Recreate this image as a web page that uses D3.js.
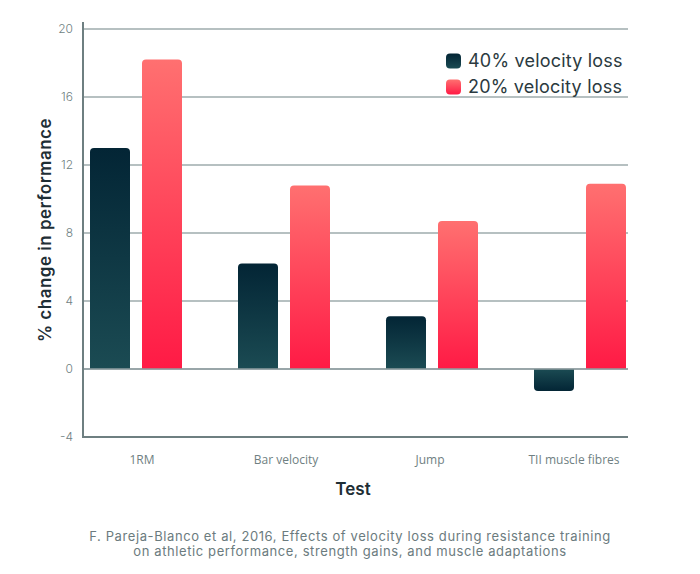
<!DOCTYPE html>
<html><head><meta charset="utf-8">
<script src="https://cdn.jsdelivr.net/npm/d3@7"></script>
<style>body{margin:0;background:#fff}svg{display:block}</style>
</head><body>
<svg id="c" width="700" height="574"></svg>
<script>
const categories = ["1RM", "Bar velocity", "Jump", "TII muscle fibres"];
const seriesNames = ["40% velocity loss", "20% velocity loss"];
const loss40 = [13.0, 6.2, 3.1, -1.3];
const loss20 = [18.2, 10.8, 8.7, 10.9];
const yTicks = [-4, 0, 4, 8, 12, 16, 20];

const svg = d3.select("#c");
const font = "Inter, 'Noto Sans', sans-serif";
const defs = svg.append("defs");
function grad(id, top, bottom) {
  const g = defs.append("linearGradient").attr("id", id).attr("x1", 0).attr("y1", 0).attr("x2", 0).attr("y2", 1);
  g.append("stop").attr("offset", "0%").attr("stop-color", top);
  g.append("stop").attr("offset", "100%").attr("stop-color", bottom);
}
grad("darkPos", "#032535", "#1b4b53");
grad("darkNeg", "#1b4b53", "#032535");
grad("redPos", "#ff7070", "#ff1a45");
grad("redNeg", "#ff1a45", "#ff7070");

const plotL = 83, plotR = 628;
const y = d3.scaleLinear().domain([-4, 20]).range([437, 29]);
const x0 = d3.scaleBand().domain(categories).range([62, 654]);
const x1 = d3.scaleBand().domain(seriesNames).range([-46, 46]).paddingInner(1 - 40 / 52);
const xLabel = d3.scalePoint().domain(categories).range([142, 574]);

// gridlines
svg.append("g").selectAll("line").data(yTicks.filter(t => t > -4)).join("line")
  .attr("x1", plotL).attr("x2", plotR)
  .attr("y1", d => y(d)).attr("y2", d => y(d))
  .attr("stroke", "#9eabad").attr("stroke-width", 1.3);

// y tick labels
svg.append("g").selectAll("text").data(yTicks).join("text")
  .attr("x", 73).attr("y", d => y(d)).attr("dy", "0.35em")
  .attr("text-anchor", "end").attr("font-family", font).attr("font-size", 12)
  .attr("font-weight", 300).attr("fill", "#6f7f82").text(d => d);

// bars
const data = [];
categories.forEach((c, i) => {
  data.push({c, s: seriesNames[0], v: loss40[i], k: "dark"});
  data.push({c, s: seriesNames[1], v: loss20[i], k: "red"});
});
function barPath(xl, w, y0, y1, r) {
  const dir = y1 < y0 ? 1 : -1;
  r = Math.min(r, Math.abs(y1 - y0) / 2);
  const xr = xl + w;
  return `M${xl},${y0} L${xl},${y1 + dir * r} Q${xl},${y1} ${xl + r},${y1} L${xr - r},${y1} Q${xr},${y1} ${xr},${y1 + dir * r} L${xr},${y0} Z`;
}
svg.append("g").selectAll("path").data(data).join("path")
  .attr("d", d => barPath(x0(d.c) + x0.bandwidth() / 2 + x1(d.s), x1.bandwidth(), y(0), y(d.v), 4))
  .attr("fill", d => `url(#${d.k}${d.v >= 0 ? "Pos" : "Neg"})`);

// zero line
svg.append("line").attr("x1", plotL).attr("x2", plotR).attr("y1", y(0)).attr("y2", y(0))
  .attr("stroke", "#8f9ea0").attr("stroke-width", 1.3);

// axes lines
svg.append("line").attr("x1", plotL).attr("x2", plotL).attr("y1", 22).attr("y2", 438)
  .attr("stroke", "#6e7f81").attr("stroke-width", 2);
svg.append("line").attr("x1", plotL - 1).attr("x2", plotR).attr("y1", 437).attr("y2", 437)
  .attr("stroke", "#6e7f81").attr("stroke-width", 2);

// x labels
svg.append("g").selectAll("text").data(categories).join("text")
  .attr("x", d => xLabel(d)).attr("y", 460).attr("dy", "0.35em")
  .attr("text-anchor", "middle").attr("font-family", "'Open Sans', sans-serif").attr("font-size", 12)
  .attr("fill", "#6f7f82").text(d => d);

// axis titles
svg.append("text").attr("x", 353).attr("y", 489).attr("dy", "0.35em")
  .attr("text-anchor", "middle").attr("font-family", font).attr("font-size", 17)
  .attr("font-weight", 600).attr("fill", "#1e2e35").text("Test");
svg.append("text").attr("transform", "translate(45,230) rotate(-90)").attr("dy", "0.35em")
  .attr("text-anchor", "middle").attr("font-family", font).attr("font-size", 17)
  .attr("font-weight", 600).attr("letter-spacing", 0.5).attr("fill", "#1e2e35").text("% change in performance");

// legend
const leg = svg.append("g");
seriesNames.forEach((s, i) => {
  const yy = 61 + i * 26;
  leg.append("rect").attr("x", 446).attr("y", yy - 7.5).attr("width", 15).attr("height", 15)
    .attr("rx", 4).attr("fill", i === 0 ? "url(#darkPos)" : "url(#redPos)");
  leg.append("text").attr("x", 468).attr("y", yy).attr("dy", "0.35em")
    .attr("font-family", font).attr("font-size", 18).attr("letter-spacing", 0.2)
    .attr("fill", "#2b3a40").text(s);
});

// caption
const cap = ["F. Pareja-Blanco et al, 2016, Effects of velocity loss during resistance training",
             "on athletic performance, strength gains, and muscle adaptations"];
svg.append("g").selectAll("text").data(cap).join("text")
  .attr("x", 350).attr("y", (d, i) => 536 + i * 15).attr("dy", "0.35em")
  .attr("text-anchor", "middle").attr("font-family", font).attr("font-size", 13)
  .attr("letter-spacing", 0.6).attr("fill", "#6b7b7e").text(d => d);
</script>
</body></html>
